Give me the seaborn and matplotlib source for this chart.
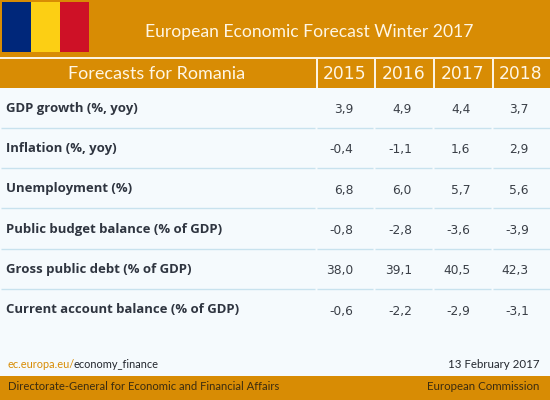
import numpy as np
import matplotlib
matplotlib.use('Agg')
import matplotlib.pyplot as plt
from matplotlib.colors import ListedColormap
from matplotlib.patches import Rectangle
import seaborn as sns

# data
years = ['2015', '2016', '2017', '2018']
rows = ['GDP growth (%, yoy)', 'Inflation (%, yoy)', 'Unemployment (%)',
        'Public budget balance (% of GDP)', 'Gross public debt (% of GDP)',
        'Current account balance (% of GDP)']
gdp = [3.9, 4.9, 4.4, 3.7]
inflation = [-0.4, -1.1, 1.6, 2.9]
unemployment = [6.8, 6.0, 5.7, 5.6]
budget = [-0.8, -2.8, -3.6, -3.9]
debt = [38.0, 39.1, 40.5, 42.3]
current = [-0.6, -2.2, -2.9, -3.1]

ORANGE = '#d88c04'
PALE = '#f5fafd'
LINE = '#c8e2ee'
HEAD_FONT = 'Lato'

sns.set_theme(style='white')
plt.rcParams['font.family'] = 'DejaVu Sans'

values = np.array([gdp, inflation, unemployment, budget, debt, current])
labels = [[f'{v:.1f}'.replace('.', ',') for v in r] for r in values]

fig = plt.figure(figsize=(5.5, 4), dpi=100, facecolor=PALE)

# table body
ax = fig.add_axes([316 / 550, 1 - 330 / 400, 234 / 550, 242 / 400])
sns.heatmap(values, ax=ax, cmap=ListedColormap([PALE]), cbar=False, annot=labels, fmt='',
            annot_kws={'fontsize': 8.8, 'color': '#3a3f47', 'ha': 'right'},
            xticklabels=False, yticklabels=rows)
ax.set_yticklabels(rows, rotation=0, ha='left', fontsize=9.45, fontweight='bold', color='#2f3540',
                   family='Open Sans')
ax.tick_params(axis='y', length=0, pad=223)

# numbers sit right aligned in their cells
for t in ax.texts:
    x, y = t.get_position()
    t.set_position((x + 0.14, y + 0.03))

# everything around it, in pixels
ov = fig.add_axes([0, 0, 1, 1], zorder=5)
ov.set_xlim(0, 550)
ov.set_ylim(400, 0)
ov.axis('off')
ov.patch.set_alpha(0)

def box(x, y, w, h, color):
    ov.add_patch(Rectangle((x, y), w, h, color=color, lw=0))

box(0, 0, 550, 57, ORANGE)
box(0, 57, 550, 2, '#fdf3e0')
box(0, 59, 550, 29, ORANGE)
box(2, 2, 29, 50, '#00277a')
box(31, 2, 29, 50, '#fccf14')
box(60, 2, 29, 50, '#ce1126')
box(0, 376, 550, 24, ORANGE)

col_edges = [316, 374, 433, 492]
for x in col_edges:
    box(x - 0.5, 58, 2, 30, '#fdf3e0')

for y in [128, 168, 208, 249, 289]:
    ends = [0] + col_edges + [551]
    for a, b in zip(ends[:-1], ends[1:]):
        ov.plot([a + 1, b - 1], [y, y], color=LINE, lw=1, solid_capstyle='butt')

ov.text(309, 32, 'European Economic Forecast Winter 2017', color='#fff6e4', fontsize=12.6,
        ha='center', va='center', family=HEAD_FONT)
ov.text(157, 74, 'Forecasts for Romania', color='#fff6e4', fontsize=13,
        ha='center', va='center', family=HEAD_FONT)
for x, yr in zip([345, 404, 463, 521], years):
    ov.text(x, 74, yr, color='#fff6e4', fontsize=12.3, ha='center', va='center')

t = ov.text(8, 365, 'ec.europa.eu/', color='#d88c04', fontsize=7.9, va='center', family=HEAD_FONT)
fig.canvas.draw()
bb = t.get_window_extent()
ov.text(bb.x1 - 1.5, 365, 'economy_finance', color='#23272e', fontsize=7.9, va='center', family=HEAD_FONT)
ov.text(539, 365, '13 February 2017', color='#23272e', fontsize=8.3, ha='right', va='center', family=HEAD_FONT)
ov.text(8, 387, 'Directorate-General for Economic and Financial Affairs', color='#3b2c10', fontsize=8.1,
        va='center', family=HEAD_FONT)
ov.text(539, 387, 'European Commission', color='#3b2c10', fontsize=8.3, ha='right', va='center', family=HEAD_FONT)

fig.savefig('out.png', dpi=100, facecolor=PALE)
